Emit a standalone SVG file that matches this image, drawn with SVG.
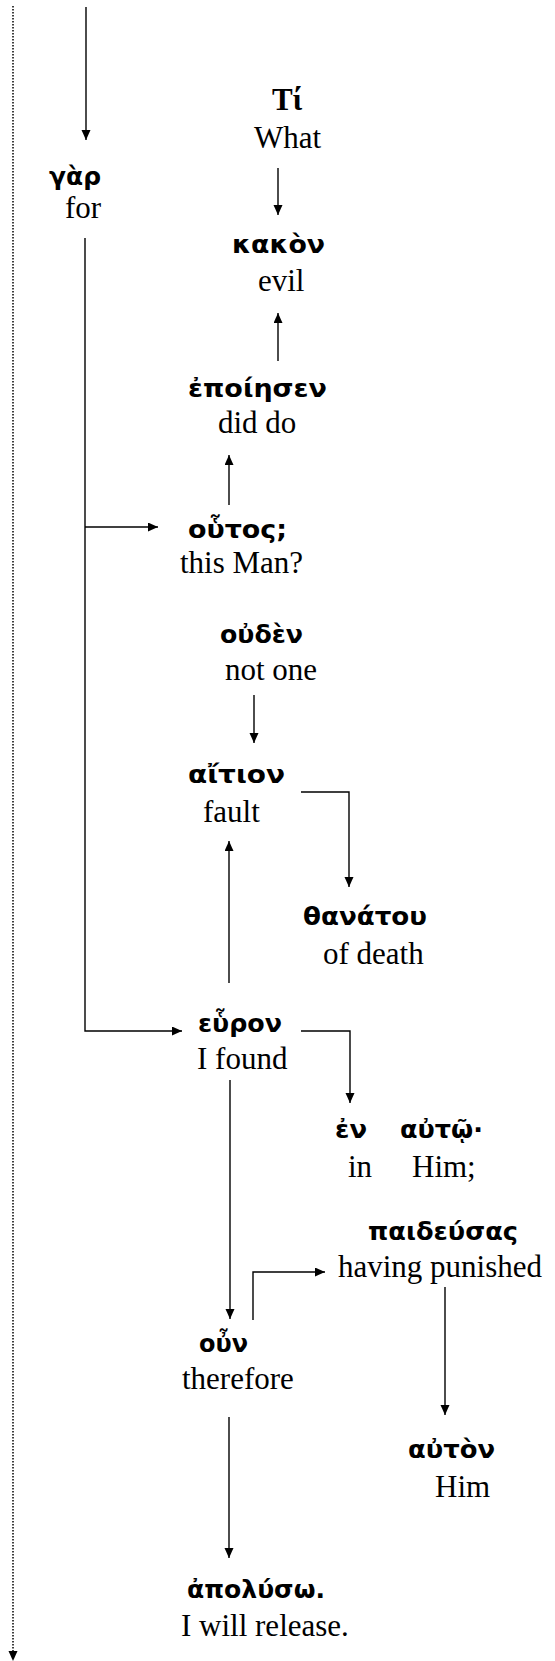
<svg xmlns="http://www.w3.org/2000/svg" width="555" height="1661" viewBox="0 0 555 1661">
<style>
.g{font-family:"DejaVu Sans","Noto Sans",sans-serif;font-weight:bold;font-size:25px;fill:#000}
.gt{font-family:"Liberation Serif","DejaVu Serif",serif;font-weight:bold;font-size:31px;fill:#000}
.e{font-family:"Liberation Serif","Times New Roman",serif;font-size:31px;fill:#000}
.c{fill:none;stroke:#000;stroke-width:1.4}
.d{fill:none;stroke:#000;stroke-width:1.5;stroke-dasharray:1.5 1.5}
</style>
<defs>
<marker id="ah" markerUnits="userSpaceOnUse" markerWidth="11" markerHeight="10" refX="10" refY="4.5" orient="auto">
<path d="M0,0 L10,4.5 L0,9 z" fill="#000"/>
</marker>
</defs>
<rect width="555" height="1661" fill="#fff"/>
<g id="connectors">
<path class="d" d="M13,6 V1652"/>
<path d="M8.5,1651 L13,1661 L17.5,1651 z" fill="#000"/>
<path class="c" d="M86,7 V140" marker-end="url(#ah)"/>
<path class="c" d="M278,168 V215" marker-end="url(#ah)"/>
<path class="c" d="M278,361 V313" marker-end="url(#ah)"/>
<path class="c" d="M229,505 V455" marker-end="url(#ah)"/>
<path class="c" d="M85,238 V1031 H182" marker-end="url(#ah)"/>
<path class="c" d="M85,527 H158" marker-end="url(#ah)"/>
<path class="c" d="M254,695 V743" marker-end="url(#ah)"/>
<path class="c" d="M301,792 H349 V887" marker-end="url(#ah)"/>
<path class="c" d="M229,983 V841" marker-end="url(#ah)"/>
<path class="c" d="M301,1031 H350 V1103" marker-end="url(#ah)"/>
<path class="c" d="M230,1080 V1319" marker-end="url(#ah)"/>
<path class="c" d="M253,1320 V1272 H325" marker-end="url(#ah)"/>
<path class="c" d="M445,1287 V1415" marker-end="url(#ah)"/>
<path class="c" d="M229,1417 V1558" marker-end="url(#ah)"/>
</g>
<g id="n-gar"><text class="g" x="49" y="185" textLength="52" lengthAdjust="spacingAndGlyphs">γὰρ</text><text class="e" x="65" y="218">for</text></g>
<g id="n-ti"><text class="gt" x="272" y="110">Τί</text><text class="e" x="254" y="148">What</text></g>
<g id="n-kakon"><text class="g" x="232" y="253" textLength="93" lengthAdjust="spacingAndGlyphs">κακὸν</text><text class="e" x="258" y="291">evil</text></g>
<g id="n-epoiesen"><text class="g" x="188" y="397" textLength="139" lengthAdjust="spacingAndGlyphs">ἐποίησεν</text><text class="e" x="218" y="433">did do</text></g>
<g id="n-houtos"><text class="g" x="188" y="538" textLength="99" lengthAdjust="spacingAndGlyphs">οὗτος;</text><text class="e" x="180" y="573">this Man?</text></g>
<g id="n-ouden"><text class="g" x="220" y="643" textLength="83" lengthAdjust="spacingAndGlyphs">οὐδὲν</text><text class="e" x="225" y="680">not one</text></g>
<g id="n-aition"><text class="g" x="188" y="783" textLength="97" lengthAdjust="spacingAndGlyphs">αἴτιον</text><text class="e" x="203" y="822">fault</text></g>
<g id="n-thanatou"><text class="g" x="303" y="925" textLength="124" lengthAdjust="spacingAndGlyphs">θανάτου</text><text class="e" x="323" y="964">of death</text></g>
<g id="n-heuron"><text class="g" x="198" y="1032" textLength="84" lengthAdjust="spacingAndGlyphs">εὗρον</text><text class="e" x="197" y="1069">I found</text></g>
<g id="n-en"><text class="g" x="335" y="1138" textLength="32" lengthAdjust="spacingAndGlyphs">ἐν</text><text class="e" x="348" y="1177">in</text></g>
<g id="n-auto"><text class="g" x="400" y="1138" textLength="83" lengthAdjust="spacingAndGlyphs">αὐτῷ·</text><text class="e" x="412" y="1177">Him;</text></g>
<g id="n-paideusas"><text class="g" x="368" y="1240" textLength="150" lengthAdjust="spacingAndGlyphs">παιδεύσας</text><text class="e" x="338" y="1277">having punished</text></g>
<g id="n-oun"><text class="g" x="199" y="1352" textLength="49" lengthAdjust="spacingAndGlyphs">οὖν</text><text class="e" x="182" y="1389">therefore</text></g>
<g id="n-auton"><text class="g" x="408" y="1458" textLength="87" lengthAdjust="spacingAndGlyphs">αὐτὸν</text><text class="e" x="435" y="1497">Him</text></g>
<g id="n-apoluso"><text class="g" x="187" y="1598" textLength="138" lengthAdjust="spacingAndGlyphs">ἀπολύσω.</text><text class="e" x="181" y="1636">I will release.</text></g>
</svg>
